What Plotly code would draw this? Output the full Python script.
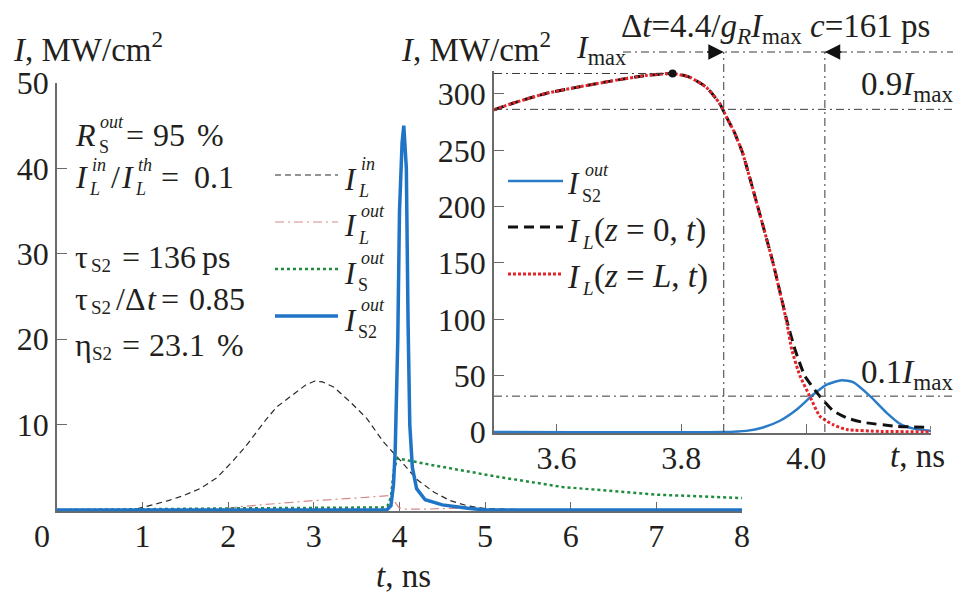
import plotly.graph_objects as go

W, H = 966, 594
FONT = "Liberation Serif, Tinos, Times New Roman, Times, serif"
TXT = "#231f20"
AX = "#6a6a6a"

# ---------------- data ----------------
# main panel, time in ns, intensity in MW/cm^2
t_L_in = [0, 0.9, 1.0, 1.16, 1.3, 1.48, 1.67, 1.87, 2.06, 2.2, 2.33, 2.45, 2.57, 2.76, 2.9,
          3.01, 3.1, 3.23, 3.42, 3.62, 3.81, 4.01, 4.2, 4.4, 4.59, 4.79, 4.98, 5.3, 5.6, 8.0]
I_L_in = [0, 0.05, 0.3, 0.7, 1.1, 1.7, 2.5, 3.8, 5.8, 7.4, 9.1, 10.7, 12.1, 13.6, 14.6,
          15.1, 15.0, 14.4, 12.7, 10.7, 8.0, 5.8, 3.6, 2.1, 1.1, 0.5, 0.2, 0.08, 0.02, 0]

t_L_out = [0, 1.9, 2.0, 2.14, 2.5, 3.0, 3.5, 3.81, 3.89, 3.95, 3.99, 4.05, 4.3, 4.6, 4.9, 5.1, 8.0]
I_L_out = [0, 0.05, 0.2, 0.4, 0.7, 1.1, 1.4, 1.6, 1.7, 0.9, 0.3, 0.1, 0.1, 0.2, 0.15, 0.02, 0]

t_S_out = [0, 1.9, 2.2, 3.0, 3.8, 3.86, 3.9, 3.93, 3.97, 4.0, 4.36, 5.14, 5.9, 6.62, 7.0, 7.5, 8.0]
I_S_out = [0, 0.1, 0.2, 0.25, 0.3, 0.5, 1.5, 4.4, 6.0, 6.0, 5.3, 3.9, 2.7, 2.1, 1.8, 1.6, 1.4]

t_S2_out = [0, 3.85, 3.9, 3.93, 3.95, 3.98, 4.0, 4.03, 4.05, 4.08, 4.1, 4.12, 4.15, 4.2, 4.3, 4.5, 4.8, 5.0, 8.0]
I_S2_out = [0, 0, 0.5, 3, 7, 20, 35, 43, 45, 40, 22, 10, 5, 2.5, 1.2, 0.6, 0.2, 0, 0]

# inset panel
ti_S2 = [3.5, 3.867, 3.904, 3.931, 3.958, 3.985, 4.011, 4.033, 4.057, 4.076, 4.102, 4.129, 4.151, 4.172, 4.2]
Ii_S2 = [0, 0, 1, 4, 10, 20, 33, 42, 46, 44, 32, 17, 7, 3, 1]

ti_z0 = [3.5, 3.529, 3.583, 3.637, 3.69, 3.744, 3.786, 3.813, 3.84, 3.861, 3.872, 3.885, 3.898, 3.91,
         3.92, 3.947, 3.969, 3.982, 3.998, 4.022, 4.043, 4.065, 4.091, 4.146, 4.2]
Ii_z0 = [286, 291.6, 300.5, 306.4, 311.7, 316.5, 318.2, 315, 306, 292, 280, 266, 248, 225,
         205, 150, 99, 73.5, 49.7, 31.6, 19, 12.5, 8.6, 5, 4]

ti_zL = [3.5, 3.529, 3.583, 3.637, 3.69, 3.744, 3.786, 3.813, 3.84, 3.861, 3.872, 3.885, 3.898, 3.91,
         3.92, 3.947, 3.969, 3.977, 3.990, 4.006, 4.022, 4.043, 4.065, 4.12, 4.2]
Ii_zL = [286, 291.6, 300.5, 306.4, 311.7, 316.5, 318.2, 315, 306, 292, 280, 266, 248, 225,
         205, 150, 97, 73, 50, 31.6, 14, 6.5, 2.2, 0.5, 0.3]

t_Imax = [3.786]
I_max = [318.2]
t_dt = [3.868, 4.030]          # edges of the Δt interval
lev_09 = [0.9 * I_max[0]]
lev_01 = [0.1 * I_max[0]]

main_xticks = [1, 2, 3, 4, 5, 6, 7, 8]
main_yticks = [10, 20, 30, 40, 50]
ins_xticks = [3.6, 3.8, 4.0, 4.2]
ins_xtext = ["3.6", "3.8", "4.0", ""]
ins_yticks = [0, 50, 100, 150, 200, 250, 300]

# ---------------- layout helpers ----------------
def px(x):
    return x / W


def py(y):
    return 1 - y / H

# main plot pixel frame
M_X0, M_X1 = 57, 742
M_Y0PIX, M_Y50PIX = 510, 83
m_scale = (M_Y0PIX - M_Y50PIX) / 50.0
m_ylo = -0.15
M_BOT = M_Y0PIX - m_ylo * m_scale
# inset pixel frame
I_X0, I_X1 = 494, 931
I_Y0PIX, I_Y300PIX = 432, 94
i_scale = (I_Y0PIX - I_Y300PIX) / 300.0
i_ylo, i_yhi = -1.2, 320
I_BOT = I_Y0PIX - i_ylo * i_scale
I_TOP = I_Y0PIX - i_yhi * i_scale

annotations = []
shapes = []


def ann(x, y, text, size, xanchor="left", yanchor="middle"):
    annotations.append(dict(x=px(x), y=py(y), xref="paper", yref="paper", text=text,
                            showarrow=False, xanchor=xanchor, yanchor=yanchor, borderpad=0,
                            font=dict(family=FONT, size=size, color=TXT)))


def toks(y, items, size=32, ss=19):
    """items: (x, text, dy, small)"""
    for x, text, dy, small in items:
        ann(x, y + dy, text, ss if small else size)


def hline_paper(x0, x1, y, dash="8px,4px,2px,4px", color="#3a3a3a", width=1):
    shapes.append(dict(type="line", xref="paper", yref="paper", x0=px(x0), x1=px(x1),
                       y0=py(y), y1=py(y), line=dict(color=color, width=width, dash=dash)))

# ---------------- figure ----------------
fig = go.Figure()

# main traces
fig.add_trace(go.Scatter(x=t_L_in, y=I_L_in, mode="lines", xaxis="x", yaxis="y",
                         line=dict(color="#2b2b2b", width=1.2, dash="6px,4px")))
fig.add_trace(go.Scatter(x=t_L_out, y=I_L_out, mode="lines", xaxis="x", yaxis="y",
                         line=dict(color="#d48a8a", width=1.2, dash="9px,4px,2px,4px")))
fig.add_trace(go.Scatter(x=t_S_out, y=I_S_out, mode="lines", xaxis="x", yaxis="y",
                         line=dict(color="#1e8c3c", width=2.5, dash="3px,3px")))
fig.add_trace(go.Scatter(x=t_S2_out, y=I_S2_out, mode="lines", xaxis="x", yaxis="y",
                         line=dict(color="#1f74c6", width=3.5)))

# inset traces
fig.add_trace(go.Scatter(x=ti_S2, y=Ii_S2, mode="lines", xaxis="x2", yaxis="y2",
                         line=dict(color="#2a7cc7", width=2.5, shape="spline", smoothing=0.6)))
fig.add_trace(go.Scatter(x=ti_z0, y=Ii_z0, mode="lines", xaxis="x2", yaxis="y2",
                         line=dict(color="#111111", width=3, dash="10px,6px", shape="spline", smoothing=0.5)))
fig.add_trace(go.Scatter(x=ti_zL, y=Ii_zL, mode="lines", xaxis="x2", yaxis="y2",
                         line=dict(color="#e3242b", width=3, dash="3px,2px", shape="spline", smoothing=0.5)))
fig.add_trace(go.Scatter(x=t_Imax, y=I_max, mode="markers", xaxis="x2", yaxis="y2",
                         marker=dict(color="#111111", size=8), cliponaxis=False))

# ---------- guide lines in the inset ----------
GD = "8px,4px,2px,4px"
GC = "#3a3a3a"
shapes.append(dict(type="line", xref="x2", yref="y2", x0=3.5, x1=t_Imax[0], y0=I_max[0], y1=I_max[0],
                   line=dict(color=GC, width=1, dash=GD)))
for lev in (lev_09[0], lev_01[0]):
    shapes.append(dict(type="line", xref="paper", yref="y2", x0=px(I_X0), x1=px(953), y0=lev, y1=lev,
                       line=dict(color=GC, width=1, dash=GD)))
for tv in t_dt:
    shapes.append(dict(type="line", xref="x2", yref="paper", x0=tv, x1=tv, y0=py(I_Y0PIX), y1=py(52),
                       line=dict(color=GC, width=1, dash=GD)))
hline_paper(623, 953, 52)
for tv, off in ((t_dt[0], -18), (t_dt[1], 18)):
    annotations.append(dict(x=tv, y=py(52), xref="x2", yref="paper", ax=off, ay=0,
                            axref="pixel", ayref="pixel", text="", showarrow=True,
                            arrowhead=2, arrowsize=2.2, arrowwidth=1.4, arrowcolor="#111111",
                            standoff=0))

# ---------- main legend ----------
leg = [
    (175, "#2b2b2b", 1.2, "6px,4px", "in", "<i>L</i>"),
    (222, "#d48a8a", 1.2, "9px,4px,2px,4px", "out", "<i>L</i>"),
    (269, "#1e8c3c", 2.5, "3px,3px", "out", "S"),
    (316, "#1f74c6", 3.5, None, "out", "S2"),
]
for yl, col, wd, ds, sup, sub in leg:
    line = dict(color=col, width=wd)
    if ds:
        line["dash"] = ds
    shapes.append(dict(type="line", xref="paper", yref="paper", x0=px(275), x1=px(338),
                       y0=py(yl), y1=py(yl), line=line))
    toks(yl + 4, [(343, "<i>I</i>", 0, False), (360, "<i>%s</i>" % sup, -15, True),
                  (357, sub, 12, True)], size=31, ss=18)

# ---------- inset legend ----------
ileg = [(181, "#2a7cc7", 2.5, None), (227, "#111111", 3, "10px,6px"), (274, "#e3242b", 3, "3px,2px")]
for yl, col, wd, ds in ileg:
    line = dict(color=col, width=wd)
    if ds:
        line["dash"] = ds
    shapes.append(dict(type="line", xref="paper", yref="paper", x0=px(508), x1=px(563),
                       y0=py(yl), y1=py(yl), line=line))
toks(184, [(566, "<i>I</i>", 0, False), (584, "<i>out</i>", -14, True), (581, "S2", 12, True)], size=31, ss=18)
toks(231, [(566, "<i>I</i>", 0, False), (581, "<i>L</i>", 11, True),
           (593, "(<i>z</i> = 0, <i>t</i>)", 0, False)], size=33, ss=19)
toks(277, [(566, "<i>I</i>", 0, False), (581, "<i>L</i>", 11, True),
           (593, "(<i>z</i> = <i>L</i>, <i>t</i>)", 0, False)], size=33, ss=19)

# ---------- parameter block ----------
toks(135, [(74, "<i>R</i>", 0, False), (99, "<i>out</i>", -13, True), (98, "S", 12, True),
           (125, "=", 0, False), (152, "95", 0, False), (196, "%", 0, False)], ss=18)
toks(177, [(74, "<i>I</i>", 0, False), (91, "<i>in</i>", -12, True), (88, "<i>L</i>", 12, True),
           (110, "/", 0, False), (120, "<i>I</i>", 0, False), (137, "<i>th</i>", -12, True),
           (134, "<i>L</i>", 12, True), (160, "=", 0, False), (193, "0.1", 0, False)], ss=18)
toks(257, [(74, "τ", 0, False), (90, "S2", 8, True), (121, "=", 0, False),
           (147, "136", 0, False), (201, "ps", 0, False)])
toks(299, [(74, "τ", 0, False), (90, "S2", 8, True), (115, "/Δ", 0, False), (146, "<i>t</i>", 0, False),
           (160, "=", 0, False), (188, "0.85", 0, False)])
toks(345, [(74, "η", 0, False), (91, "S2", 8, True), (121, "=", 0, False),
           (148, "23.1", 0, False), (216, "%", 0, False)])

# ---------- titles and labels ----------
ann(12, 47, "<i>I</i>, MW/cm<sup>2</sup>", 33)
ann(400, 47, "<i>I</i>, MW/cm<sup>2</sup>", 33)
ann(575, 50, "<i>I</i><sub>max</sub>", 32)
ann(620, 28, "Δ<i>t</i>=4.4/<i>g<sub>R</sub></i><i>I</i><sub>max</sub> <i>c</i>=161 ps", 33)
ann(954, 86, "0.9<i>I</i><sub>max</sub>", 33, xanchor="right")
ann(954, 374, "0.1<i>I</i><sub>max</sub>", 33, xanchor="right")
ann(403, 576, "<i>t</i>, ns", 33, xanchor="center")
ann(889, 456, "<i>t</i>, ns", 33)
ann(42, 536, "0", 32, xanchor="center")

tickfont = dict(family=FONT, size=32, color=TXT)
axis_common = dict(showline=True, linecolor=AX, linewidth=1.5, ticks="inside", ticklen=10,
                   tickcolor=AX, tickwidth=1.2, showgrid=False, zeroline=False, automargin=False,
                   tickfont=tickfont, layer="below traces", fixedrange=True)

fig.update_layout(
    template="none",
    font=dict(family=FONT, color=TXT),
    width=W, height=H, margin=dict(l=0, r=0, t=0, b=0, pad=0, autoexpand=False),
    paper_bgcolor="white", plot_bgcolor="rgba(0,0,0,0)", showlegend=False,
    xaxis=dict(domain=[px(M_X0), px(M_X1)], range=[0, 8], tickvals=main_xticks,
               anchor="y", ticklabelstandoff=-4, **axis_common),
    yaxis=dict(domain=[py(M_BOT), py(M_Y50PIX)], range=[m_ylo, 50], tickvals=main_yticks,
               anchor="x", **axis_common),
    xaxis2=dict(domain=[px(I_X0), px(I_X1)], range=[3.5, 4.2], tickvals=ins_xticks,
                ticktext=ins_xtext, anchor="y2", ticklabelstandoff=-5, **axis_common),
    yaxis2=dict(domain=[py(I_BOT), py(I_TOP)], range=[i_ylo, i_yhi], tickvals=ins_yticks,
                anchor="x2", **axis_common),
    annotations=annotations, shapes=shapes,
)

fig.write_html("out.html", config={"displayModeBar": False},
               post_script="document.body.style.margin='0px';document.body.style.overflow='hidden';")
